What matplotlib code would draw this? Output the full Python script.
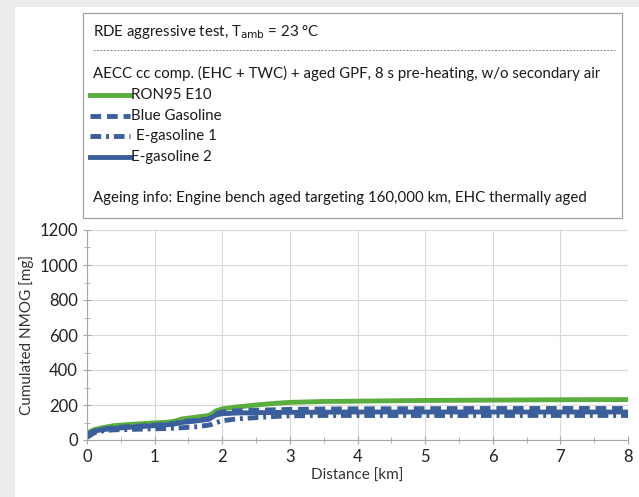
import matplotlib.pyplot as plt
from matplotlib.patches import Rectangle
from matplotlib.lines import Line2D
from matplotlib.ticker import MultipleLocator

plt.rcParams['font.family'] = ['Lato', 'DejaVu Sans']

# distance [km] and cumulated NMOG [mg]
dist = [0, 0.1, 0.2, 0.3, 0.4, 0.6, 0.8, 1.0, 1.2, 1.3, 1.4, 1.6, 1.8, 1.85, 1.9, 2.0, 2.2, 2.5, 2.8, 3.0, 3.5, 4.0, 5.0, 6.0, 7.0, 8.0]
ron95_e10 = [40, 58, 68, 75, 82, 88, 93, 98, 102, 108, 120, 130, 140, 150, 165, 178, 188, 200, 210, 215, 220, 222, 226, 228, 230, 231]
blue_gasoline = [30, 50, 60, 65, 70, 76, 80, 85, 90, 95, 105, 112, 120, 135, 150, 160, 166, 170, 173, 175, 177, 178, 179, 180, 180, 180]
e_gasoline_1 = [15, 40, 50, 55, 58, 60, 62, 64, 66, 68, 70, 75, 85, 90, 98, 110, 120, 128, 135, 138, 140, 140, 140, 140, 140, 140]
e_gasoline_2 = [30, 48, 58, 62, 66, 72, 77, 82, 87, 92, 100, 108, 118, 130, 142, 150, 154, 156, 158, 158, 159, 160, 160, 160, 160, 160]

green = '#5aae3e'
blue = '#3b5e9c'
dash = (0, (2.2, 1.2))
dashdot = (0, (2.2, 1.0, 0.6, 1.0))

fig = plt.figure(figsize=(6.39, 4.97), dpi=100)
fig.patch.set_facecolor('#ececec')
fig.add_artist(Rectangle((15 / 639, 0), 1, 1 - 7 / 497, transform=fig.transFigure,
                         facecolor='white', edgecolor='none', zorder=-5))

ax = fig.add_axes([87 / 639, 57 / 497, 541 / 639, 210 / 497])
ax.plot(dist, ron95_e10, color=green, lw=3.5)
ax.plot(dist, blue_gasoline, color=blue, lw=3.5, ls=dash)
ax.plot(dist, e_gasoline_1, color=blue, lw=3.5, ls=dashdot)
ax.plot(dist, e_gasoline_2, color=blue, lw=3.5)

ax.set_xlim(0, 8)
ax.set_ylim(0, 1200)
ax.xaxis.set_major_locator(MultipleLocator(1))
ax.xaxis.set_minor_locator(MultipleLocator(0.5))
ax.yaxis.set_major_locator(MultipleLocator(200))
ax.yaxis.set_minor_locator(MultipleLocator(100))
ax.grid(True, which='major', color='#d9d9d9', lw=0.8)
ax.set_axisbelow(True)
for s in ['top', 'right']:
    ax.spines[s].set_visible(False)
for s in ['left', 'bottom']:
    ax.spines[s].set_color('#a6a6a6')
ax.tick_params(which='both', direction='inout', color='#a6a6a6', labelsize=12, colors='#222222')
ax.tick_params(which='major', length=6)
ax.tick_params(which='minor', length=4)
ax.set_xlabel('Distance [km]', fontsize=11, color='#333333', labelpad=3)
ax.set_ylabel('Cumulated NMOG [mg]', fontsize=11, color='#333333', labelpad=4)

# legend / info box
bx0, bx1 = 83 / 639, 622 / 639
by0, by1 = 1 - 218 / 497, 1 - 13 / 497
fig.add_artist(Rectangle((bx0, by0), bx1 - bx0, by1 - by0, transform=fig.transFigure,
                         facecolor='white', edgecolor='#a0a0a0', lw=0.9, zorder=1))
tx = 93 / 639
tc = '#1a1a1a'
fs = 10.8
fig.text(tx, 1 - 32 / 497, r'RDE aggressive test, T$_{\mathrm{amb}}$ = 23 °C', fontsize=fs, color=tc, va='center', zorder=2)
fig.add_artist(Line2D([tx, 615 / 639], [1 - 50 / 497] * 2, transform=fig.transFigure,
                      color='#888888', lw=0.7, ls=(0, (2, 1.5)), zorder=2))
fig.text(tx, 1 - 73 / 497, 'AECC cc comp. (EHC + TWC) + aged GPF, 8 s pre-heating, w/o secondary air',
         fontsize=fs, color=tc, va='center', zorder=2)

labels = ['RON95 E10', 'Blue Gasoline', 'E-gasoline 1', 'E-gasoline 2']
colors = [green, blue, blue, blue]
styles = ['-', dash, dashdot, '-']
for i, (lab, c, st) in enumerate(zip(labels, colors, styles)):
    y = 1 - (95 + i * 20.5) / 497
    fig.add_artist(Line2D([90 / 639, 130 / 639], [y, y], transform=fig.transFigure,
                          color=c, lw=3.5, ls=st, zorder=2))
    fig.text(131 / 639 if i != 2 else 136 / 639, y, lab, fontsize=fs, color=tc, va='center', zorder=2)

fig.text(tx, 1 - 198 / 497, 'Ageing info: Engine bench aged targeting 160,000 km, EHC thermally aged',
         fontsize=fs, color=tc, va='center', zorder=2)

fig.savefig('out.png', dpi=100)
